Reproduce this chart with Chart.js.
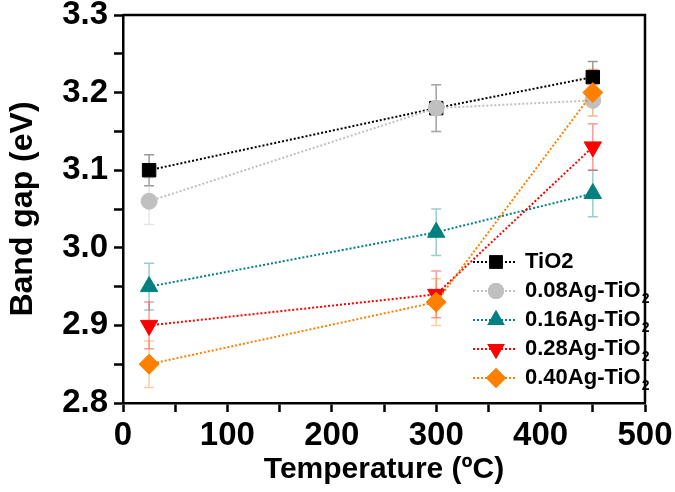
<!DOCTYPE html>
<html>
<head>
<meta charset="utf-8">
<script src="https://cdn.jsdelivr.net/npm/chart.js@4/dist/chart.umd.min.js"></script>
<style>
  html, body { margin: 0; padding: 0; background: #fff; }
  #wrap { width: 675px; height: 492px; }
</style>
</head>
<body>
<div id="wrap"><canvas id="bandChart" width="675" height="492"></canvas></div>
<script>
// Data
const temps = [25, 300, 450];
const labels = ["TiO2", "0.08Ag-TiO", "0.16Ag-TiO", "0.28Ag-TiO", "0.40Ag-TiO"];
const subs = ["", "2", "2", "2", "2"];

const tio2 = [3.10, 3.18, 3.22];
const ag008 = [3.06, 3.18, 3.19];
const ag016 = [2.95, 3.02, 3.07];
const ag028 = [2.90, 2.94, 3.13];
const ag040 = [2.85, 2.93, 3.20];

const tio2Err = [0.02, 0.03, 0.02];
const ag008Err = [0.03, 0.03, 0.02];
const ag016Err = [0.03, 0.03, 0.03];
const ag028Err = [0.03, 0.03, 0.03];
const ag040Err = [0.03, 0.03, 0.03];

const xTicks = [0, 100, 200, 300, 400, 500];
const yTicks = [2.8, 2.9, 3.0, 3.1, 3.2, 3.3];

const colors = ["#000000", "#c0c0c0", "#008080", "#ff0000", "#ff8000"];
const shapes = ["rect", "circle", "triangle", "triangle", "rectRot"];
const rotations = [0, 0, 0, 180, 0];
const radii = [9.5, 8, 10, 10, 10];

const FONT = "'Liberation Sans', Arial, sans-serif";

const allValues = [tio2, ag008, ag016, ag028, ag040];
const allErrs = [tio2Err, ag008Err, ag016Err, ag028Err, ag040Err];

const datasets = allValues.map((vals, i) => ({
  label: labels[i] + subs[i],
  data: temps.map((t, j) => ({ x: t, y: vals[j] })),
  errs: allErrs[i],
  order: -i, // later series drawn on top
  borderColor: colors[i],
  backgroundColor: colors[i],
  borderWidth: 2,
  borderDash: [2, 2],
  pointStyle: shapes[i],
  rotation: rotations[i],
  pointRadius: radii[i],
  pointBorderWidth: 1,
  showLine: true,
  tension: 0,
}));

function fade(hex, a) {
  const n = parseInt(hex.slice(1), 16);
  return `rgba(${(n >> 16) & 255}, ${(n >> 8) & 255}, ${n & 255}, ${a})`;
}

// error bars under the markers
const errorBars = {
  id: "errorBars",
  beforeDatasetsDraw(chart) {
    const ctx = chart.ctx;
    const xs = chart.scales.x, ys = chart.scales.y;
    ctx.save();
    chart.data.datasets.forEach((ds) => {
      ctx.strokeStyle = fade(ds.borderColor, 0.4);
      ctx.lineWidth = 1.5;
      ds.data.forEach((p, j) => {
        const x = xs.getPixelForValue(p.x);
        const top = ys.getPixelForValue(p.y + ds.errs[j]);
        const bot = ys.getPixelForValue(p.y - ds.errs[j]);
        ctx.beginPath();
        ctx.moveTo(x, top); ctx.lineTo(x, bot);
        ctx.moveTo(x - 5, top); ctx.lineTo(x + 5, top);
        ctx.moveTo(x - 5, bot); ctx.lineTo(x + 5, bot);
        ctx.stroke();
      });
    });
    ctx.restore();
  },
};

// box frame + legend with subscripts
const frameLegend = {
  id: "frameLegend",
  afterDraw(chart) {
    const ctx = chart.ctx;
    const a = chart.chartArea;
    ctx.save();
    ctx.strokeStyle = "#000";
    ctx.lineWidth = 2.5;
    ctx.beginPath();
    ctx.moveTo(a.left, a.top); ctx.lineTo(a.right, a.top); ctx.lineTo(a.right, a.bottom);
    ctx.stroke();

    const x0 = a.right - 172;
    chart.data.datasets.forEach((ds, i) => {
      const y = a.top + 247 + i * 29;
      ctx.strokeStyle = ds.borderColor;
      ctx.lineWidth = 2;
      ctx.setLineDash([2, 2]);
      ctx.beginPath();
      ctx.moveTo(x0, y); ctx.lineTo(x0 + 44, y);
      ctx.stroke();
      ctx.setLineDash([]);
      ctx.fillStyle = ds.backgroundColor;
      Chart.helpers.drawPoint(ctx, {
        pointStyle: ds.pointStyle, rotation: ds.rotation,
        radius: ds.pointRadius, borderWidth: 0,
      }, x0 + 23, y);
      ctx.fill();
      ctx.fillStyle = "#000";
      ctx.font = "bold 22px " + FONT;
      ctx.textBaseline = "middle";
      ctx.fillText(labels[i], x0 + 52, y);
      if (subs[i]) {
        const w = ctx.measureText(labels[i]).width;
        ctx.font = "bold 14px " + FONT;
        ctx.fillText(subs[i], x0 + 53 + w, y + 8);
      }
    });
    ctx.restore();
  },
};

new Chart(document.getElementById("bandChart").getContext("2d"), {
  type: "scatter",
  data: { datasets },
  options: {
    responsive: false,
    animation: false,
    layout: { padding: { left: 0, right: 30, top: 15, bottom: 0 } },
    plugins: { legend: { display: false }, tooltip: { enabled: false } },
    scales: {
      x: {
        type: "linear",
        min: 0, max: 500,
        afterBuildTicks: (s) => {
          s.ticks = [];
          for (let v = 0; v <= 500; v += 50) s.ticks.push({ value: v });
        },
        afterFit: (s) => { s.height = 89; s.paddingLeft = 0; s.paddingRight = 0; },
        ticks: {
          autoSkip: false, maxRotation: 0, padding: 4, color: "#000",
          font: { family: FONT, size: 33, weight: "bold" },
          callback: (v) => (xTicks.includes(v) ? v : ""),
        },
        grid: { drawOnChartArea: false, tickLength: 9, tickWidth: 2.5, tickColor: "#000" },
        border: { color: "#000", width: 2.5 },
        title: {
          display: true, text: "Temperature (ºC)", color: "#000",
          font: { family: FONT, size: 30, weight: "bold" }, padding: { top: 0 },
        },
      },
      y: {
        min: 2.8, max: 3.3,
        afterBuildTicks: (s) => {
          s.ticks = [];
          for (let k = 0; k <= 10; k++) s.ticks.push({ value: Math.round((2.8 + k * 0.05) * 100) / 100 });
        },
        afterFit: (s) => { s.width = 123; s.paddingTop = 0; s.paddingBottom = 0; },
        ticks: {
          autoSkip: false, padding: 6, color: "#000",
          font: { family: FONT, size: 33, weight: "bold" },
          callback: (v) => {
            const hit = yTicks.find((t) => Math.abs(t - v) < 1e-6);
            return hit !== undefined ? hit.toFixed(1) : "";
          },
        },
        grid: { drawOnChartArea: false, tickLength: 9, tickWidth: 2.5, tickColor: "#000" },
        border: { color: "#000", width: 2.5 },
        title: {
          display: true, text: "Band gap (eV)", color: "#000",
          font: { family: FONT, size: 32, weight: "bold" }, padding: { bottom: 0 },
        },
      },
    },
  },
  plugins: [errorBars, frameLegend],
});
</script>
</body>
</html>
